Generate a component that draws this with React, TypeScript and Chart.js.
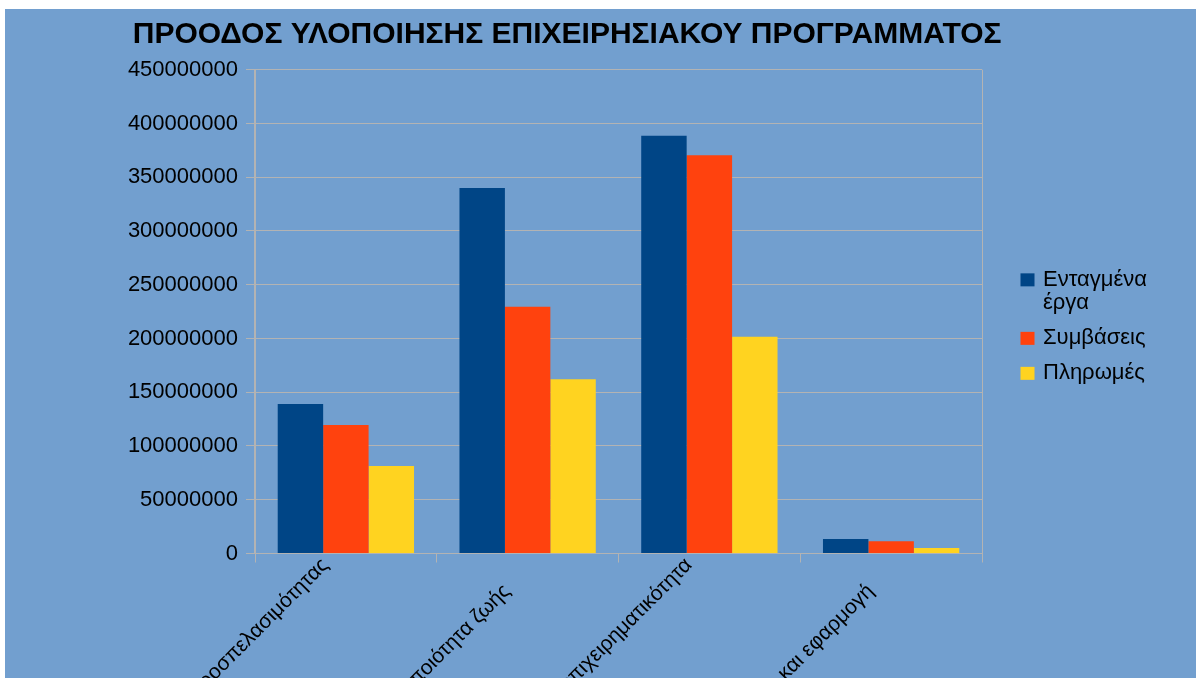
import { useEffect, useRef } from "react";
import { Chart, registerables } from "chart.js";

Chart.register(...registerables);

// ---- data ----
const TITLE = "ΠΡΟΟΔΟΣ ΥΛΟΠΟΙΗΣΗΣ ΕΠΙΧΕΙΡΗΣΙΑΚΟΥ ΠΡΟΓΡΑΜΜΑΤΟΣ";
const CATEGORIES = [
  "Βελτίωση προσπελασιμότητας",
  "Αειφόρος ανάπτυξη και ποιότητα ζωής",
  "Ανταγωνιστικότητα και επιχειρηματικότητα",
  "Τεχνική υποστήριξη και εφαρμογή",
];
const SERIES_NAMES = ["Ενταγμένα έργα", "Συμβάσεις", "Πληρωμές"];
const ENTAGMENA_ERGA = [139000000, 340000000, 388500000, 13500000];
const SYMVASEIS = [119500000, 229500000, 370500000, 11500000];
const PLIROMES = [81500000, 162000000, 201500000, 5000000];
const Y_MIN = 0;
const Y_MAX = 450000000;
const Y_STEP = 50000000;

// ---- styles ----
const COLORS = ["#004586", "#ff420e", "#ffd320"];
const BG = "#729fcf";
const GRID = "#b3b3b3";
const FONT = '"Liberation Sans", Arial, sans-serif';

function wrapText(ctx: CanvasRenderingContext2D, text: string, maxWidth: number): string[] {
  const words = text.split(" ");
  const lines: string[] = [];
  let cur = "";
  for (const w of words) {
    const test = cur ? cur + " " + w : w;
    if (cur && ctx.measureText(test).width > maxWidth) {
      lines.push(cur);
      cur = w;
    } else {
      cur = test;
    }
  }
  if (cur) lines.push(cur);
  return lines;
}

const titlePlugin = {
  id: "customTitle",
  afterDraw(chart: any) {
    const { ctx, width } = chart;
    ctx.save();
    ctx.font = `bold 30px ${FONT}`;
    ctx.fillStyle = "#000";
    ctx.textAlign = "center";
    ctx.textBaseline = "alphabetic";
    ctx.fillText(TITLE, width * 0.472, 34);
    ctx.restore();
  },
};

const xLabelPlugin = {
  id: "xLabels",
  afterDraw(chart: any) {
    const scale = chart.scales.x;
    const { ctx } = chart;
    ctx.save();
    ctx.font = `21px ${FONT}`;
    ctx.fillStyle = "#000";
    ctx.textAlign = "right";
    ctx.textBaseline = "top";
    scale.ticks.forEach((_t: any, i: number) => {
      const label = chart.data.labels[i];
      const x = scale.getPixelForTick(i) - 28;
      // alternate (staggered) label rows
      const y = scale.top + 1 + (i % 2) * 26;
      ctx.save();
      ctx.translate(x, y);
      ctx.rotate(-Math.PI / 4);
      ctx.fillText(label, 0, 0);
      ctx.restore();
    });
    ctx.restore();
  },
};

const legendPlugin = {
  id: "customLegend",
  afterDraw(chart: any) {
    const { ctx, chartArea } = chart;
    ctx.save();
    ctx.font = `22px ${FONT}`;
    const lineH = 23.5;
    const gap = 11.5;
    const items = chart.data.datasets.map((ds: any) => ({
      color: ds.backgroundColor,
      lines: wrapText(ctx, ds.label, 125),
    }));
    const total =
      items.reduce((s: number, it: any) => s + it.lines.length * lineH, 0) +
      gap * (items.length - 1);
    let y = (chartArea.top + chartArea.bottom) / 2 - total / 2 + 15;
    const boxX = chartArea.right + 38.5;
    items.forEach((it: any) => {
      ctx.fillStyle = it.color;
      ctx.fillRect(boxX, y + lineH / 2 - 6.5, 14, 13);
      ctx.fillStyle = "#000";
      ctx.textAlign = "left";
      ctx.textBaseline = "middle";
      it.lines.forEach((ln: string, k: number) => {
        ctx.fillText(ln, boxX + 22.5, y + lineH / 2 + k * lineH);
      });
      y += it.lines.length * lineH + gap;
    });
    ctx.restore();
  },
};

export default function App() {
  const ref = useRef<HTMLCanvasElement | null>(null);

  useEffect(() => {
    if (!ref.current) return;
    const chart = new Chart(ref.current, {
      type: "bar",
      data: {
        labels: CATEGORIES,
        datasets: [
          { label: SERIES_NAMES[0], data: ENTAGMENA_ERGA, backgroundColor: COLORS[0] },
          { label: SERIES_NAMES[1], data: SYMVASEIS, backgroundColor: COLORS[1] },
          { label: SERIES_NAMES[2], data: PLIROMES, backgroundColor: COLORS[2] },
        ],
      },
      options: {
        animation: false,
        responsive: true,
        maintainAspectRatio: false,
        datasets: { bar: { categoryPercentage: 0.75, barPercentage: 1 } },
        layout: { padding: { left: 120, right: 214, top: 60.7, bottom: 0 } },
        plugins: {
          legend: { display: false },
          title: { display: false },
          tooltip: { enabled: false },
        },
        scales: {
          x: {
            ticks: { display: false, autoSkip: false },
            grid: {
              offset: true,
              drawOnChartArea: true,
              color: (c: any) => (c.type === "tick" && c.index > 0 ? "rgba(0,0,0,0)" : GRID),
              tickColor: GRID,
              tickLength: 9,
              lineWidth: 1,
            },
            border: { display: true, color: GRID, width: 1 },
            afterFit: (s: any) => {
              s.height = 124.5;
            },
          },
          y: {
            min: Y_MIN,
            max: Y_MAX,
            ticks: {
              stepSize: Y_STEP,
              color: "#000",
              padding: 8,
              font: { family: FONT, size: 22 },
              callback: (v: any) => String(v),
            },
            grid: { color: GRID, lineWidth: 1, tickLength: 9 },
            border: { display: true, color: GRID, width: 2 },
            afterFit: (s: any) => {
              s.width = 130;
            },
          },
        },
      },
      plugins: [titlePlugin, xLabelPlugin, legendPlugin],
    });
    return () => chart.destroy();
  }, []);

  return (
    <div
      style={{
        position: "absolute",
        left: 5,
        top: 9,
        width: 1191,
        height: 669,
        background: BG,
      }}
    >
      <canvas ref={ref} />
    </div>
  );
}
